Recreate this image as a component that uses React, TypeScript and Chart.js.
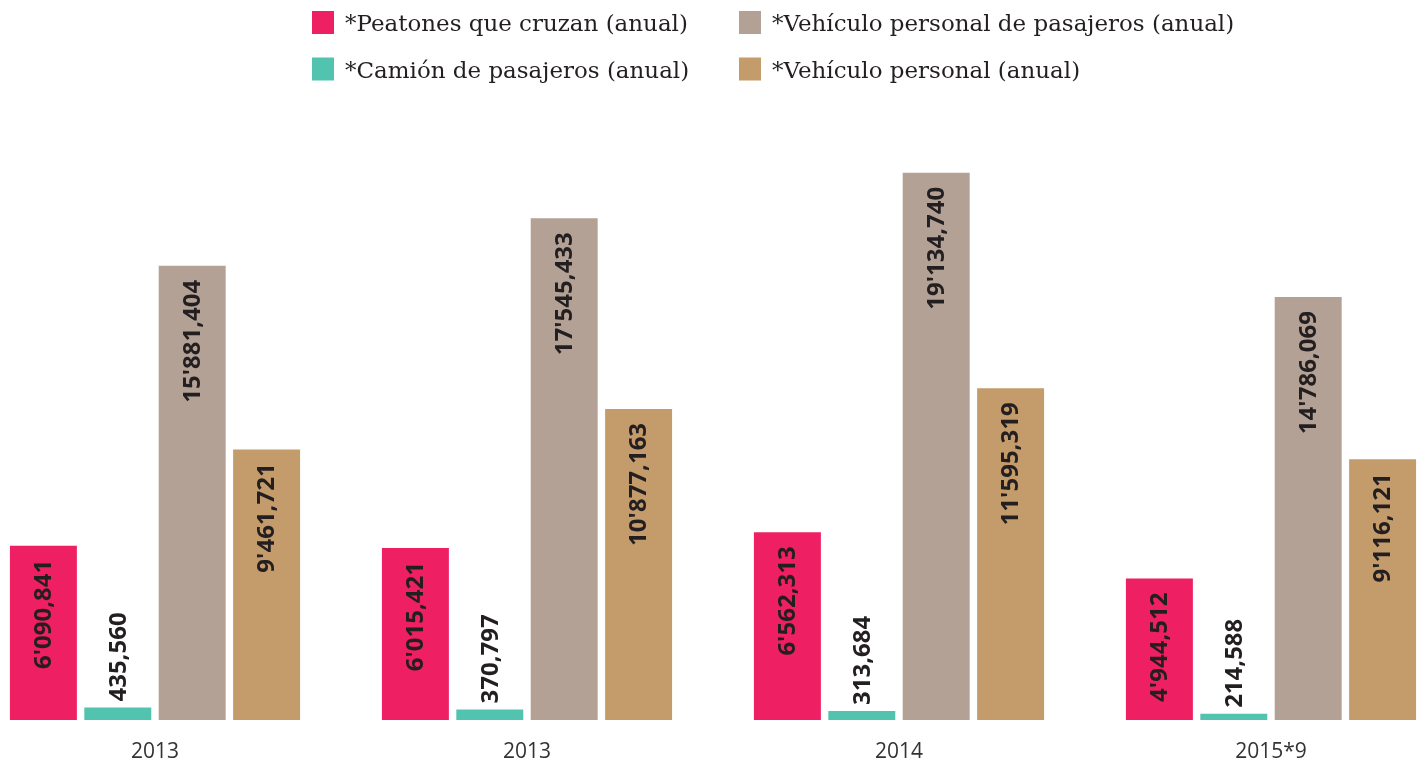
import React, { useEffect, useRef } from "react";
import { Chart, registerables } from "chart.js";

Chart.register(...registerables);

// ---- Data ----
const categories = ["2013", "2013", "2014", "2015*9"];
const seriesNames = [
  "*Peatones que cruzan (anual)",
  "*Camión de pasajeros (anual)",
  "*Vehículo personal de pasajeros (anual)",
  "*Vehículo personal (anual)",
];
const peatones = [6090841, 6015421, 6562313, 4944512];
const camionPasajeros = [435560, 370797, 313684, 214588];
const vehiculoPasajeros = [15881404, 17545433, 19134740, 14786069];
const vehiculoPersonal = [9461721, 10877163, 11595319, 9116121];
const seriesColors = ["#EE1F63", "#52C3AF", "#B3A195", "#C49B6B"];

const SHIFT = 31; // canvas is shifted left so categories land where the reference puts them

function fmt(n: number): string {
  const s = Math.round(n).toString();
  if (s.length > 6) {
    return s.slice(0, s.length - 6) + "'" + s.slice(s.length - 6, s.length - 3) + "," + s.slice(-3);
  }
  if (s.length > 3) return s.slice(0, s.length - 3) + "," + s.slice(-3);
  return s;
}

const barLabelPlugin = {
  id: "barLabels",
  afterDatasetsDraw(chart: any) {
    const ctx = chart.ctx;
    ctx.save();
    ctx.font = 'bold 24px "Open Sans"';
    ctx.fillStyle = "#231F20";
    chart.data.datasets.forEach((ds: any, di: number) => {
      const meta = chart.getDatasetMeta(di);
      meta.data.forEach((bar: any, i: number) => {
        const text = fmt(ds.data[i]);
        const tw = ctx.measureText(text).width;
        const top = bar.y;
        const h = bar.base - bar.y;
        ctx.save();
        ctx.textBaseline = "middle";
        if (h > tw + 30) {
          ctx.translate(bar.x, top + 14);
          ctx.rotate(-Math.PI / 2);
          ctx.textAlign = "right";
        } else {
          ctx.translate(bar.x, top - 6);
          ctx.rotate(-Math.PI / 2);
          ctx.textAlign = "left";
        }
        ctx.fillText(text, 0, 1);
        ctx.restore();
      });
    });
    ctx.restore();
  },
};

const legendPlugin = {
  id: "gridLegend",
  afterDraw(chart: any) {
    const ctx = chart.ctx;
    ctx.save();
    const colX = [312 + SHIFT, 739 + SHIFT];
    const rowY = [22.5, 69];
    let size = 21;
    ctx.font = `${size}px "DejaVu Serif"`;
    const w = ctx.measureText(seriesNames[0]).width;
    size = (size * 343) / w;
    ctx.font = `${size}px "DejaVu Serif"`;
    ctx.textBaseline = "alphabetic";
    ctx.textAlign = "left";
    chart.data.datasets.forEach((ds: any, i: number) => {
      const col = Math.floor(i / 2);
      const row = i % 2;
      const x = colX[col];
      const y = rowY[row];
      ctx.fillStyle = ds.backgroundColor;
      ctx.fillRect(x, y - 11.5, 22, 23);
      ctx.fillStyle = "#231F20";
      ctx.fillText(ds.label, x + 33, y + 8.5);
    });
    ctx.restore();
  },
};

export default function App() {
  const canvasRef = useRef<HTMLCanvasElement | null>(null);

  useEffect(() => {
    if (!canvasRef.current) return;
    const seriesData = [peatones, camionPasajeros, vehiculoPasajeros, vehiculoPersonal];
    const chart = new Chart(canvasRef.current, {
      type: "bar",
      data: {
        labels: categories,
        datasets: seriesData.map((d, i) => ({
          label: seriesNames[i],
          data: d,
          backgroundColor: seriesColors[i],
          borderWidth: 0,
        })),
      },
      options: {
        animation: false,
        responsive: true,
        maintainAspectRatio: false,
        layout: { padding: { top: 148, left: 0, right: 0, bottom: 0 } },
        plugins: {
          legend: { display: false },
          tooltip: { enabled: false },
        },
        scales: {
          x: {
            grid: { display: false, drawTicks: false },
            border: { display: false },
            ticks: {
              font: { family: '"Open Sans"', size: 21 },
              color: "#333333",
              padding: 19,
            },
            afterFit: (s: any) => {
              s.height = 43;
            },
          },
          y: {
            display: false,
            min: 0,
            max: 20000000,
          },
        },
      },
      plugins: [barLabelPlugin, legendPlugin],
    });
    return () => chart.destroy();
  }, []);

  return (
    <div
      style={{
        position: "fixed",
        left: 0,
        top: 0,
        width: 1425,
        height: 763,
        overflow: "hidden",
        background: "#ffffff",
      }}
    >
      <div style={{ position: "absolute", left: -SHIFT, top: 0, width: 1488, height: 763 }}>
        <canvas ref={canvasRef} />
      </div>
    </div>
  );
}
